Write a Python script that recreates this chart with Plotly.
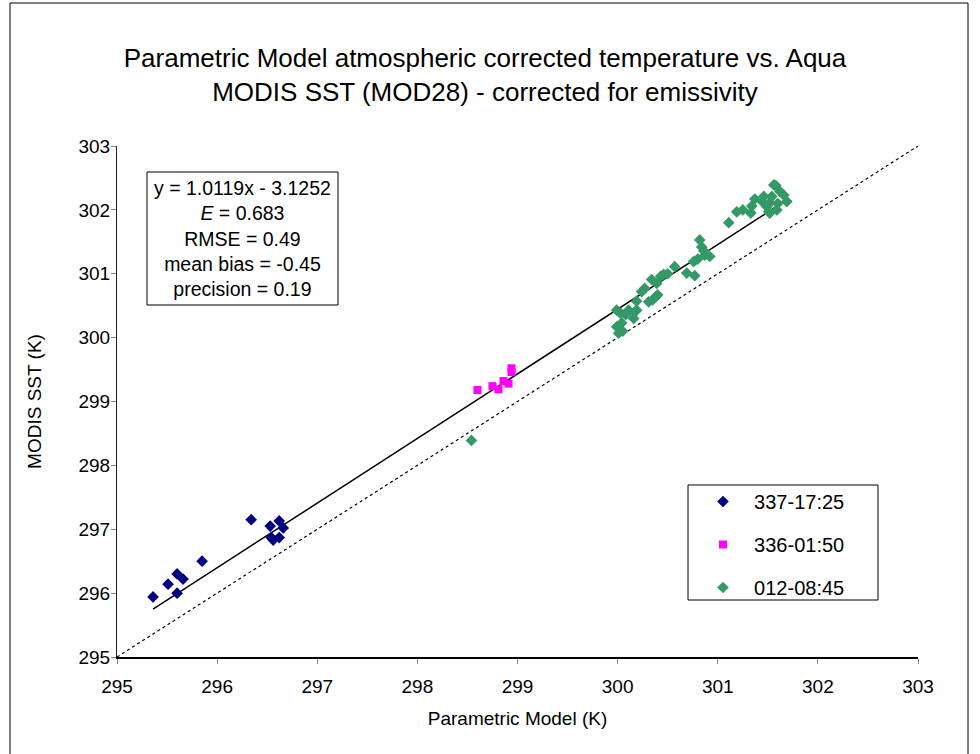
import plotly.graph_objects as go

# ---------------- data ----------------
blue_x = [295.36, 295.51, 295.60, 295.66, 295.60, 295.85, 296.34, 296.53, 296.62, 296.66, 296.54, 296.56, 296.62]
blue_y = [295.94, 296.14, 296.30, 296.22, 296.00, 296.50, 297.15, 297.05, 297.13, 297.02, 296.87, 296.83, 296.87]

mag_x = [298.60, 298.75, 298.81, 298.86, 298.91, 298.94, 298.94]
mag_y = [299.18, 299.24, 299.19, 299.32, 299.28, 299.52, 299.46]

green_x = [298.54,
           300.01, 299.99, 300.04, 299.99, 300.03, 300.08, 300.11, 300.16, 300.19, 300.17,
           300.19, 300.31, 300.35, 300.38, 300.40, 300.27, 300.24, 300.34, 300.39, 300.43,
           300.50, 300.57, 300.69, 300.77, 300.76, 300.80, 300.87, 300.92, 300.82, 300.84,
           300.86, 300.46, 300.05,
           301.11, 301.19, 301.25, 301.33, 301.34, 301.37, 301.46, 301.52, 301.54, 301.49,
           301.51, 301.52, 301.56, 301.62, 301.66, 301.59, 301.69, 301.58, 301.60, 301.45]
green_y = [298.39,
           300.07, 300.17, 300.23, 300.43, 300.38, 300.36, 300.43, 300.30, 300.43, 300.40,
           300.57, 300.56, 300.59, 300.64, 300.67, 300.77, 300.72, 300.91, 300.85, 300.96,
           301.00, 301.11, 301.01, 300.97, 301.19, 301.23, 301.29, 301.27, 301.53, 301.42,
           301.36, 300.99, 300.10,
           301.80, 301.97, 302.00, 301.95, 302.06, 302.17, 302.21, 302.11, 302.21, 302.05,
           301.97, 301.95, 302.39, 302.29, 302.23, 302.00, 302.13, 302.38, 302.10, 302.12]

series_names = ["337-17:25", "336-01:50", "012-08:45"]

slope = 1.0119
intercept = -3.1252
one_to_one = [295, 303]

x_ticks = [295, 296, 297, 298, 299, 300, 301, 302, 303]
y_ticks = [295, 296, 297, 298, 299, 300, 301, 302, 303]

stats_lines = ["y = 1.0119x - 3.1252", "<i>E</i> = 0.683", "RMSE = 0.49",
               "mean bias = -0.45", "precision = 0.19"]

title_text = ("Parametric Model atmospheric corrected temperature vs. Aqua<br>"
              "MODIS SST (MOD28) - corrected for emissivity")

# ---------------- figure ----------------
FONT = "Liberation Sans, Arial, sans-serif"
fig = go.Figure()

# 1:1 dotted line
fig.add_trace(go.Scatter(x=one_to_one, y=one_to_one, mode="lines",
                         line=dict(color="black", width=1.2, dash="dot"),
                         showlegend=False, hoverinfo="skip"))

# regression line
all_x = blue_x + mag_x + green_x
xmin, xmax = min(all_x), max(all_x)
fig.add_trace(go.Scatter(x=[xmin, xmax], y=[slope * xmin + intercept, slope * xmax + intercept],
                         mode="lines", line=dict(color="black", width=1.5),
                         showlegend=False, hoverinfo="skip"))

fig.add_trace(go.Scatter(x=blue_x, y=blue_y, mode="markers", name="\u00a0\u00a0" + series_names[0],
                         legendgroup="a",
                         marker=dict(symbol="diamond", size=9, color="#000080")))
fig.add_trace(go.Scatter(x=mag_x, y=mag_y, mode="markers", name="\u00a0\u00a0" + series_names[1],
                         legendgroup="b",
                         marker=dict(symbol="square", size=8, color="#FF00FF")))
fig.add_trace(go.Scatter(x=green_x, y=green_y, mode="markers", name="\u00a0\u00a0" + series_names[2],
                         legendgroup="c",
                         marker=dict(symbol="diamond", size=9, color="#339966")))

def px_x(p):
    return (p - 117) / 801.0

def px_y(p):
    return (657 - p) / 511.0

shapes = [
    # outer chart border
    dict(type="rect", xref="paper", yref="paper", x0=px_x(10), x1=px_x(968),
         y0=px_y(780), y1=px_y(3), line=dict(color="black", width=1)),
    # stats box
    dict(type="rect", xref="paper", yref="paper", x0=px_x(147), x1=px_x(338),
         y0=px_y(305), y1=px_y(172), line=dict(color="black", width=1),
         fillcolor="white", layer="below"),
    # legend box
    dict(type="rect", xref="paper", yref="paper", x0=px_x(688), x1=px_x(878),
         y0=px_y(600), y1=px_y(485), line=dict(color="black", width=1),
         fillcolor="white", layer="below"),
]

annotations = [
    dict(text="<br>".join(stats_lines), xref="paper", yref="paper",
         x=px_x(242.5), y=px_y(238.5), xanchor="center", yanchor="middle",
         showarrow=False, align="center", font=dict(family=FONT, size=19.5, color="black")),
]

fig.update_layout(
    width=980, height=754,
    margin=dict(l=117, r=62, t=146, b=97),
    paper_bgcolor="white", plot_bgcolor="white",
    font=dict(family=FONT, size=19, color="black"),
    title=dict(text=title_text, x=485 / 980, xref="container", xanchor="center",
               y=1 - 67 / 754, yref="container", yanchor="middle",
               font=dict(family=FONT, size=26, color="black")),
    shapes=shapes,
    annotations=annotations,
    legend=dict(x=px_x(703), y=px_y(482), xanchor="left", yanchor="top",
                bgcolor="rgba(0,0,0,0)", borderwidth=0,
                font=dict(family=FONT, size=20, color="black"),
                tracegroupgap=14, traceorder="grouped"),
    showlegend=True,
)

fig.update_xaxes(range=[295, 303], tickvals=x_ticks, ticktext=[str(v) for v in x_ticks],
                 ticks="outside", ticklen=5, tickcolor="#808080",
                 showline=True, linecolor="black", linewidth=2, mirror=False,
                 showgrid=False, zeroline=False, ticklabelstandoff=6,
                 tickfont=dict(family=FONT, size=19),
                 title=dict(text="Parametric Model (K)", font=dict(family=FONT, size=19), standoff=16))
fig.update_yaxes(range=[295, 303], tickvals=y_ticks, ticktext=[str(v) for v in y_ticks],
                 ticks="outside", ticklen=5, tickcolor="#808080",
                 showline=True, linecolor="#202020", linewidth=1, mirror=False,
                 showgrid=False, zeroline=False, ticklabelstandoff=-3,
                 tickfont=dict(family=FONT, size=19),
                 title=dict(text="MODIS SST (K)", font=dict(family=FONT, size=19), standoff=31))

fig.write_html("out.html")
